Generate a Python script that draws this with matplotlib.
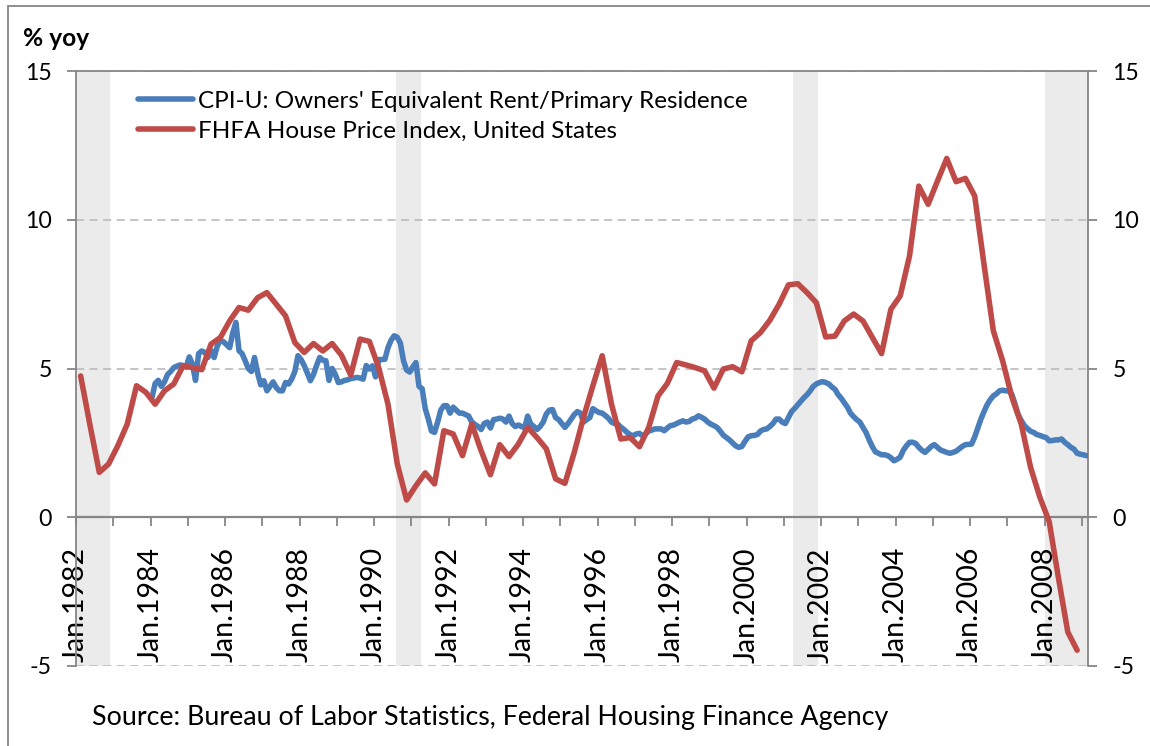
import numpy as np
import matplotlib
matplotlib.use("Agg")
import matplotlib.pyplot as plt
from matplotlib.ticker import FixedLocator, FixedFormatter
from matplotlib.patches import Rectangle

# ---------------- data ----------------
# CPI-U Owners' Equivalent Rent, % yoy, monthly from Jan 1984 to Feb 2009
cpi_start_year = 1984
cpi_oer = [
    4.03, 4.50, 4.60, 4.40, 4.55, 4.80, 4.90, 5.03, 5.08, 5.12, 5.10, 5.05,  # 1984
    5.39, 5.15, 4.60, 5.50, 5.59, 5.54, 5.37, 5.60, 5.37, 5.75, 5.95, 5.90,  # 1985
    5.80, 5.70, 6.20, 6.55, 5.60, 5.50, 5.26, 5.00, 4.90, 5.37, 4.85, 4.45,  # 1986
    4.59, 4.25, 4.40, 4.55, 4.36, 4.25, 4.25, 4.53, 4.48, 4.65, 4.90, 5.43,  # 1987
    5.30, 5.10, 4.85, 4.59, 4.80, 5.10, 5.37, 5.28, 5.26, 4.60, 5.00, 4.81,  # 1988
    4.53, 4.55, 4.60, 4.62, 4.66, 4.68, 4.70, 4.68, 4.64, 5.10, 4.98, 5.09,  # 1989
    4.72, 5.30, 5.30, 5.31, 5.70, 5.95, 6.10, 6.05, 5.85, 5.26, 4.95, 4.88,  # 1990
    5.05, 5.20, 4.40, 4.32, 3.65, 3.30, 2.90, 2.85, 3.20, 3.60, 3.75, 3.75,  # 1991
    3.50, 3.70, 3.60, 3.50, 3.50, 3.45, 3.40, 3.20, 3.12, 3.05, 2.95, 3.15,  # 1992
    3.20, 3.00, 3.28, 3.30, 3.33, 3.30, 3.20, 3.40, 3.15, 3.05, 3.10, 3.05,  # 1993
    3.00, 3.40, 3.13, 3.05, 2.95, 3.05, 3.20, 3.47, 3.60, 3.62, 3.35, 3.28,  # 1994
    3.15, 3.02, 3.15, 3.30, 3.45, 3.55, 3.50, 3.20, 3.28, 3.35, 3.65, 3.58,  # 1995
    3.52, 3.50, 3.42, 3.33, 3.20, 3.15, 3.13, 3.03, 2.95, 2.85, 2.78, 2.74,  # 1996
    2.80, 2.82, 2.74, 2.80, 2.90, 2.93, 2.97, 2.97, 2.97, 2.91, 3.00, 3.08,  # 1997
    3.10, 3.15, 3.20, 3.24, 3.20, 3.22, 3.30, 3.33, 3.41, 3.36, 3.30, 3.20,  # 1998
    3.13, 3.08, 3.02, 2.90, 2.76, 2.68, 2.60, 2.50, 2.40, 2.35, 2.38, 2.55,  # 1999
    2.70, 2.74, 2.75, 2.78, 2.90, 2.95, 2.97, 3.05, 3.15, 3.30, 3.30, 3.20,  # 2000
    3.15, 3.35, 3.55, 3.66, 3.78, 3.90, 4.02, 4.12, 4.25, 4.40, 4.48, 4.53,  # 2001
    4.56, 4.53, 4.48, 4.38, 4.30, 4.12, 4.00, 3.85, 3.70, 3.50, 3.38, 3.28,  # 2002
    3.20, 3.02, 2.85, 2.60, 2.38, 2.20, 2.15, 2.10, 2.10, 2.07, 2.00, 1.90,  # 2003
    1.95, 2.02, 2.25, 2.40, 2.52, 2.52, 2.48, 2.35, 2.25, 2.18, 2.28, 2.38,  # 2004
    2.44, 2.35, 2.26, 2.22, 2.18, 2.15, 2.18, 2.22, 2.30, 2.38, 2.44, 2.45,  # 2005
    2.46, 2.70, 3.00, 3.30, 3.55, 3.78, 3.95, 4.08, 4.15, 4.25, 4.27, 4.25,  # 2006
    4.25, 4.12, 3.80, 3.45, 3.25, 3.08, 2.98, 2.89, 2.85, 2.78, 2.75, 2.71,  # 2007
    2.68, 2.57, 2.58, 2.60, 2.60, 2.63, 2.52, 2.44, 2.35, 2.29, 2.15, 2.12,  # 2008
    2.10, 2.07,                                                              # 2009
]

# FHFA House Price Index, % yoy, quarterly from 1982Q1 to 2008Q4
fhfa_start_year = 1982
fhfa_hpi = [
    4.75, 3.10, 1.51, 1.79,   # 1982
    2.41, 3.13, 4.42, 4.20,   # 1983
    3.80, 4.25, 4.48, 5.09,   # 1984
    5.03, 4.96, 5.82, 6.04,   # 1985
    6.60, 7.05, 6.96, 7.38,   # 1986
    7.55, 7.16, 6.77, 5.87,   # 1987
    5.54, 5.84, 5.59, 5.84,   # 1988
    5.45, 4.78, 5.99, 5.91,   # 1989
    5.03, 3.80, 1.79, 0.58,   # 1990
    1.06, 1.49, 1.12, 2.91,   # 1991
    2.80, 2.07, 3.13, 2.24,   # 1992
    1.43, 2.44, 2.04, 2.46,   # 1993
    3.02, 2.68, 2.30, 1.29,   # 1994
    1.14, 2.18, 3.36, 4.42,   # 1995
    5.43, 3.80, 2.63, 2.68,   # 1996
    2.37, 3.02, 4.08, 4.50,   # 1997
    5.20, 5.12, 5.03, 4.92,   # 1998
    4.34, 4.98, 5.06, 4.89,   # 1999
    5.93, 6.21, 6.62, 7.16,   # 2000
    7.81, 7.85, 7.55, 7.21,   # 2001
    6.06, 6.09, 6.60, 6.83,   # 2002
    6.60, 6.05, 5.50, 6.99,   # 2003
    7.44, 8.78, 11.13, 10.52, # 2004
    11.30, 12.06, 11.28, 11.39,  # 2005
    10.80, 8.50, 6.27, 5.26,  # 2006
    4.03, 3.13, 1.68, 0.67,   # 2007
    -0.15, -2.05, -3.86, -4.47,  # 2008
]

# NBER recessions shaded (start year, start month, end year, end month), inclusive
recessions = [(1982, 1, 1982, 11), (1990, 8, 1991, 3), (2001, 4, 2001, 11), (2008, 1, 2009, 2)]

series_labels = ["CPI-U: Owners' Equivalent Rent/Primary Residence",
                 "FHFA House Price Index, United States"]
y_ticks = [-5, 0, 5, 10, 15]
x_label_years = list(range(1982, 2009, 2))
source_text = "Source: Bureau of Labor Statistics, Federal Housing Finance Agency"
y_unit = "% yoy"

# ---------------- figure ----------------
plt.rcParams['font.family'] = ['Lato', 'DejaVu Sans']
W, H = 1150, 746
fig = plt.figure(figsize=(W / 100, H / 100), dpi=100)

def fx(px):
    return px / W

def fy(py):
    return 1 - py / H

ax_l, ax_r, ax_t, ax_b = 76, 1088, 71, 666
ax = fig.add_axes([fx(ax_l), fy(ax_b), fx(ax_r - ax_l), (ax_b - ax_t) / H])

GRAY = "#868686"
BLUE = "#4A7EBB"
RED = "#BE4B48"
LW = 4.0

cpi_x = cpi_start_year + (np.arange(len(cpi_oer)) + 0.5) / 12.0
fhfa_x = fhfa_start_year + (3 * np.arange(len(fhfa_hpi)) + 1.5) / 12.0

for (sy, sm, ey, em) in recessions:
    ax.axvspan(sy + (sm - 1) / 12.0, ey + em / 12.0, color="#EBEBEB", lw=0, zorder=0.2)

l1, = ax.plot(cpi_x, cpi_oer, color=BLUE, lw=LW, solid_joinstyle='round',
              solid_capstyle='round', zorder=3, label=series_labels[0])
l2, = ax.plot(fhfa_x, fhfa_hpi, color=RED, lw=LW, solid_joinstyle='round',
              solid_capstyle='round', zorder=4, label=series_labels[1])

ax.set_xlim(1982, 1982 + 326 / 12.0)
ax.set_ylim(-5, 15)

# spines
for s in ['left', 'right', 'top']:
    ax.spines[s].set_color(GRAY)
    ax.spines[s].set_linewidth(1.3)
ax.spines['bottom'].set_position(('data', 0))
ax.spines['bottom'].set_color(GRAY)
ax.spines['bottom'].set_linewidth(1.6)
ax.spines['bottom'].set_zorder(2.6)

# grid
ax.set_axisbelow(True)
ax.yaxis.grid(True, color="#BFBFBF", lw=1.3, linestyle=(0, (4.5, 3)))
ax.xaxis.grid(False)

# y ticks both sides
ax.yaxis.set_major_locator(FixedLocator(y_ticks))
ax.yaxis.set_major_formatter(FixedFormatter([str(v) for v in y_ticks]))
ax.tick_params(axis='y', which='major', left=True, right=True, labelleft=True,
               labelright=True, direction='out', length=6.5, width=1.3,
               color=GRAY, pad=11, labelsize=15, labelcolor='black')

# x ticks every year, labels every two years
yrs = list(range(1982, 2010))
ax.xaxis.set_major_locator(FixedLocator(yrs))
ax.xaxis.set_major_formatter(FixedFormatter(
    [("Jan.%d" % y) if y in x_label_years else "" for y in yrs]))
ax.tick_params(axis='x', which='major', direction='out', length=6.5, width=1.3,
               color=GRAY, pad=15, labelsize=17, labelrotation=90, labelcolor='black')

leg_anchor = ((138 - ax_l) / (ax_r - ax_l), (ax_b - 116) / (ax_b - ax_t))
leg = ax.legend(handles=[l1, l2], loc='center left', bbox_to_anchor=leg_anchor,
                frameon=False, fontsize=15, borderpad=0, borderaxespad=0,
                handlelength=2.6, handletextpad=0.25, labelspacing=0.2)

t_unit = fig.text(fx(23), fy(46), y_unit, fontsize=14, fontweight='bold',
                  ha='left', va='baseline')
t_src = fig.text(fx(92), fy(717), source_text, fontsize=15, ha='left', va='center')

# outer chart frame
fig.patches.append(Rectangle((fx(8), -0.05), fx(1150 - 8) + 0.01, fy(6) + 0.05,
                             transform=fig.transFigure, fill=False,
                             edgecolor=GRAY, lw=1.3))

# ---- fit font sizes to the reference's text extents ----
fig.canvas.draw()
r = fig.canvas.get_renderer()

def fitted(t, target, use_height=False):
    bb = t.get_window_extent(renderer=r)
    cur = bb.height if use_height else bb.width
    return t.get_fontsize() * target / cur

leg_fs = fitted(leg.get_texts()[0], 550)
src_fs = fitted(t_src, 796)
unit_fs = fitted(t_unit, 66)
xl = [t for t in ax.get_xticklabels() if t.get_text() == "Jan.1982"][0]
x_fs = fitted(xl, 115, use_height=True)
yl = [t for t in ax.get_yticklabels() if t.get_text() == "15"][0]
y_fs = fitted(yl, 27)

t_src.set_fontsize(src_fs)
t_unit.set_fontsize(unit_fs)
ax.tick_params(axis='x', labelsize=x_fs)
ax.tick_params(axis='y', labelsize=y_fs)

fs_px = leg_fs * 100 / 72.0
leg.remove()
leg = ax.legend(handles=[l1, l2], loc='center left', bbox_to_anchor=leg_anchor,
                frameon=False, fontsize=leg_fs, borderpad=0, borderaxespad=0,
                handlelength=55 / fs_px, handletextpad=5 / fs_px, labelspacing=0.5)
# measure actual row spacing and correct it to 30 px
fig.canvas.draw()
tb = [t.get_window_extent(renderer=r) for t in leg.get_texts()]
row_gap = abs((tb[0].y0 + tb[0].y1) / 2 - (tb[1].y0 + tb[1].y1) / 2)
new_ls = 0.5 + (30 - row_gap) / fs_px
leg.remove()
leg = ax.legend(handles=[l1, l2], loc='center left', bbox_to_anchor=leg_anchor,
                frameon=False, fontsize=leg_fs, borderpad=0, borderaxespad=0,
                handlelength=55 / fs_px, handletextpad=5 / fs_px,
                labelspacing=max(0.0, new_ls))

fig.savefig("out.png", dpi=100)
